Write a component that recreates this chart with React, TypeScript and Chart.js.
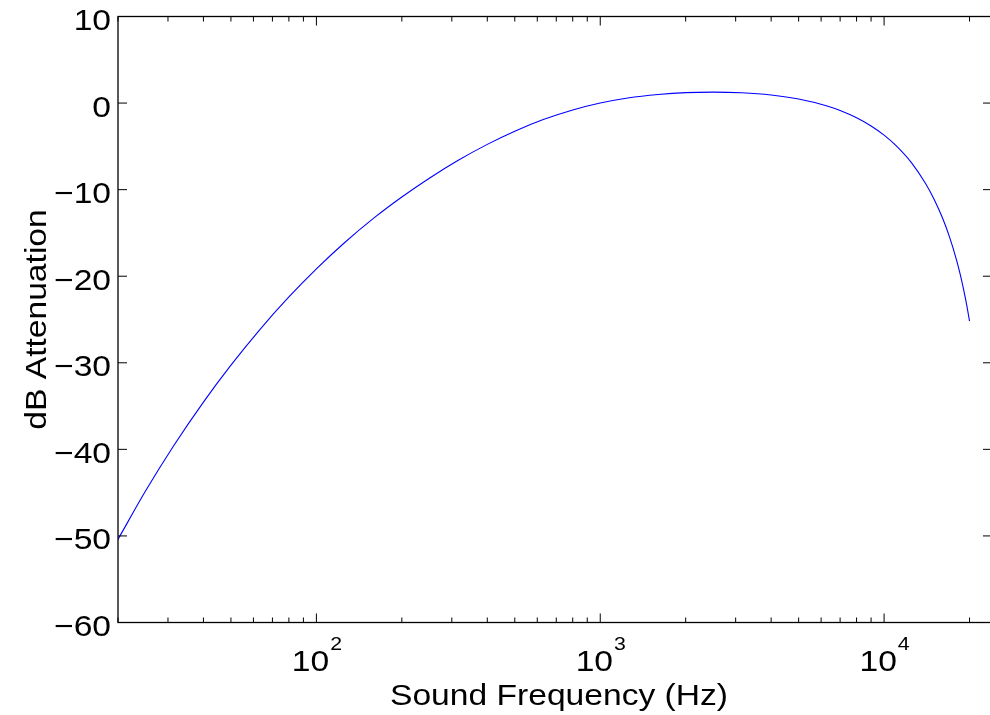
import React, { useEffect, useRef } from 'react';
import { Chart, registerables } from 'chart.js';

Chart.register(...registerables);

// Frequency (Hz) and attenuation (dB)
const frequencies = [
  20, 25, 31.5, 40, 50, 63, 80, 100, 125, 160, 200, 250, 315, 400, 500, 630, 800,
  1000, 1250, 1600, 2000, 2500, 3150, 4000, 5000, 6300, 7000, 8000, 9000, 10000,
  11000, 12500, 14000, 15000, 16000, 17000, 18000, 18500, 19000, 19500, 20000,
];
const attenuationDb = [
  -50.4, -44.82, -39.53, -34.54, -30.28, -26.22, -22.4, -19.15, -16.19, -13.24, -10.85, -8.68, -6.64, -4.77, -3.25, -1.91, -0.8,
  0.0, 0.58, 0.99, 1.21, 1.27, 1.19, 0.93, 0.47, -0.33, -0.85, -1.69, -2.64, -3.7,
  -4.89, -6.9, -9.29, -11.1, -13.14, -15.45, -18.13, -19.64, -21.31, -23.14, -25.19,
];

const yTickValues = [-60, -50, -40, -30, -20, -10, 0, 10];
const yTickLabels = ['\u221260', '\u221250', '\u221240', '\u221230', '\u221220', '\u221210', '0', '10'];
const xMajorTicks = [100, 1000, 10000];
const xMajorBase = '10';
const xMajorExponents = ['2', '3', '4'];
const xMinorTicks = [
  20, 30, 40, 50, 60, 70, 80, 90,
  200, 300, 400, 500, 600, 700, 800, 900,
  2000, 3000, 4000, 5000, 6000, 7000, 8000, 9000,
  20000,
];
const xTitle = 'Sound Frequency (Hz)';
const yTitle = 'dB Attenuation';

const FONT = "'Liberation Sans', Arial, Helvetica, sans-serif";
const SX = 1.12;

function stretchedText(ctx: CanvasRenderingContext2D, text: string, x: number, y: number, align: CanvasTextAlign, size: number) {
  ctx.save();
  ctx.translate(x, y);
  ctx.scale(SX, 1);
  ctx.font = `${size}px ${FONT}`;
  ctx.textAlign = align;
  ctx.textBaseline = 'alphabetic';
  ctx.fillText(text, 0, 0);
  ctx.restore();
}

const axesPlugin = {
  id: 'matlabAxes',
  afterDatasetsDraw(chart: any) {
    const ctx: CanvasRenderingContext2D = chart.ctx;
    const a = chart.chartArea;
    const xs = chart.scales.x;
    const ys = chart.scales.y;
    ctx.save();
    ctx.strokeStyle = '#000';
    ctx.fillStyle = '#000';
    ctx.lineWidth = 1.3;
    ctx.strokeRect(a.left, a.top, a.right - a.left, a.bottom - a.top);

    ctx.lineWidth = 1;
    ctx.beginPath();
    yTickValues.forEach((v) => {
      const y = ys.getPixelForValue(v);
      ctx.moveTo(a.left, y);
      ctx.lineTo(a.left + 9, y);
      ctx.moveTo(a.right, y);
      ctx.lineTo(a.right - 9, y);
    });
    xMajorTicks.forEach((v) => {
      const x = xs.getPixelForValue(v);
      ctx.moveTo(x, a.bottom);
      ctx.lineTo(x, a.bottom - 9);
      ctx.moveTo(x, a.top);
      ctx.lineTo(x, a.top + 9);
    });
    xMinorTicks.forEach((v) => {
      const x = xs.getPixelForValue(v);
      ctx.moveTo(x, a.bottom);
      ctx.lineTo(x, a.bottom - 5);
      ctx.moveTo(x, a.top);
      ctx.lineTo(x, a.top + 5);
    });
    ctx.stroke();

    // y tick labels
    yTickValues.forEach((v, i) => {
      const y = ys.getPixelForValue(v);
      stretchedText(ctx, yTickLabels[i], a.left - 7, y + 13.5, 'right', 30);
    });

    // x tick labels (10^n)
    xMajorTicks.forEach((v, i) => {
      const x = xs.getPixelForValue(v);
      ctx.font = `30px ${FONT}`;
      const w1 = ctx.measureText(xMajorBase).width * SX;
      ctx.font = `19px ${FONT}`;
      const w2 = ctx.measureText(xMajorExponents[i]).width * SX;
      const start = x - (w1 + w2) / 2;
      stretchedText(ctx, xMajorBase, start, 671, 'left', 30);
      stretchedText(ctx, xMajorExponents[i], start + w1 + 1, 650, 'left', 19);
    });

    // x title
    stretchedText(ctx, xTitle, 559, 705, 'center', 30);

    // y title (rotated)
    ctx.save();
    ctx.translate(46, (a.top + a.bottom) / 2);
    ctx.rotate(-Math.PI / 2);
    ctx.scale(SX, 1);
    ctx.font = `30px ${FONT}`;
    ctx.textAlign = 'center';
    ctx.textBaseline = 'alphabetic';
    ctx.fillText(yTitle, 0, 0);
    ctx.restore();

    ctx.restore();
  },
};

export default function App() {
  const canvasRef = useRef<HTMLCanvasElement | null>(null);

  useEffect(() => {
    document.body.style.margin = '0';
    const canvas = canvasRef.current;
    if (!canvas) return;
    const points = frequencies.map((f, i) => ({ x: f, y: attenuationDb[i] }));
    const chart = new Chart(canvas, {
      type: 'line',
      data: {
        datasets: [
          {
            label: 'A-weighting',
            data: points,
            borderColor: '#0000ff',
            borderWidth: 1.1,
            pointRadius: 0,
            fill: false,
            cubicInterpolationMode: 'monotone',
          },
        ],
      },
      options: {
        responsive: false,
        animation: false,
        devicePixelRatio: 1,
        layout: { padding: { left: 118, top: 16.5, right: 8, bottom: 92.5 } },
        plugins: { legend: { display: false }, tooltip: { enabled: false } },
        scales: {
          x: { type: 'logarithmic', min: 20, max: 24000, display: false },
          y: { type: 'linear', min: -60, max: 10, display: false },
        },
      },
      plugins: [axesPlugin],
    });
    return () => chart.destroy();
  }, []);

  return (
    <div style={{ position: 'absolute', left: 0, top: 0, width: 990, height: 715, overflow: 'hidden', background: '#fff' }}>
      <canvas ref={canvasRef} width={1000} height={715} style={{ width: 1000, height: 715, display: 'block' }} />
    </div>
  );
}
